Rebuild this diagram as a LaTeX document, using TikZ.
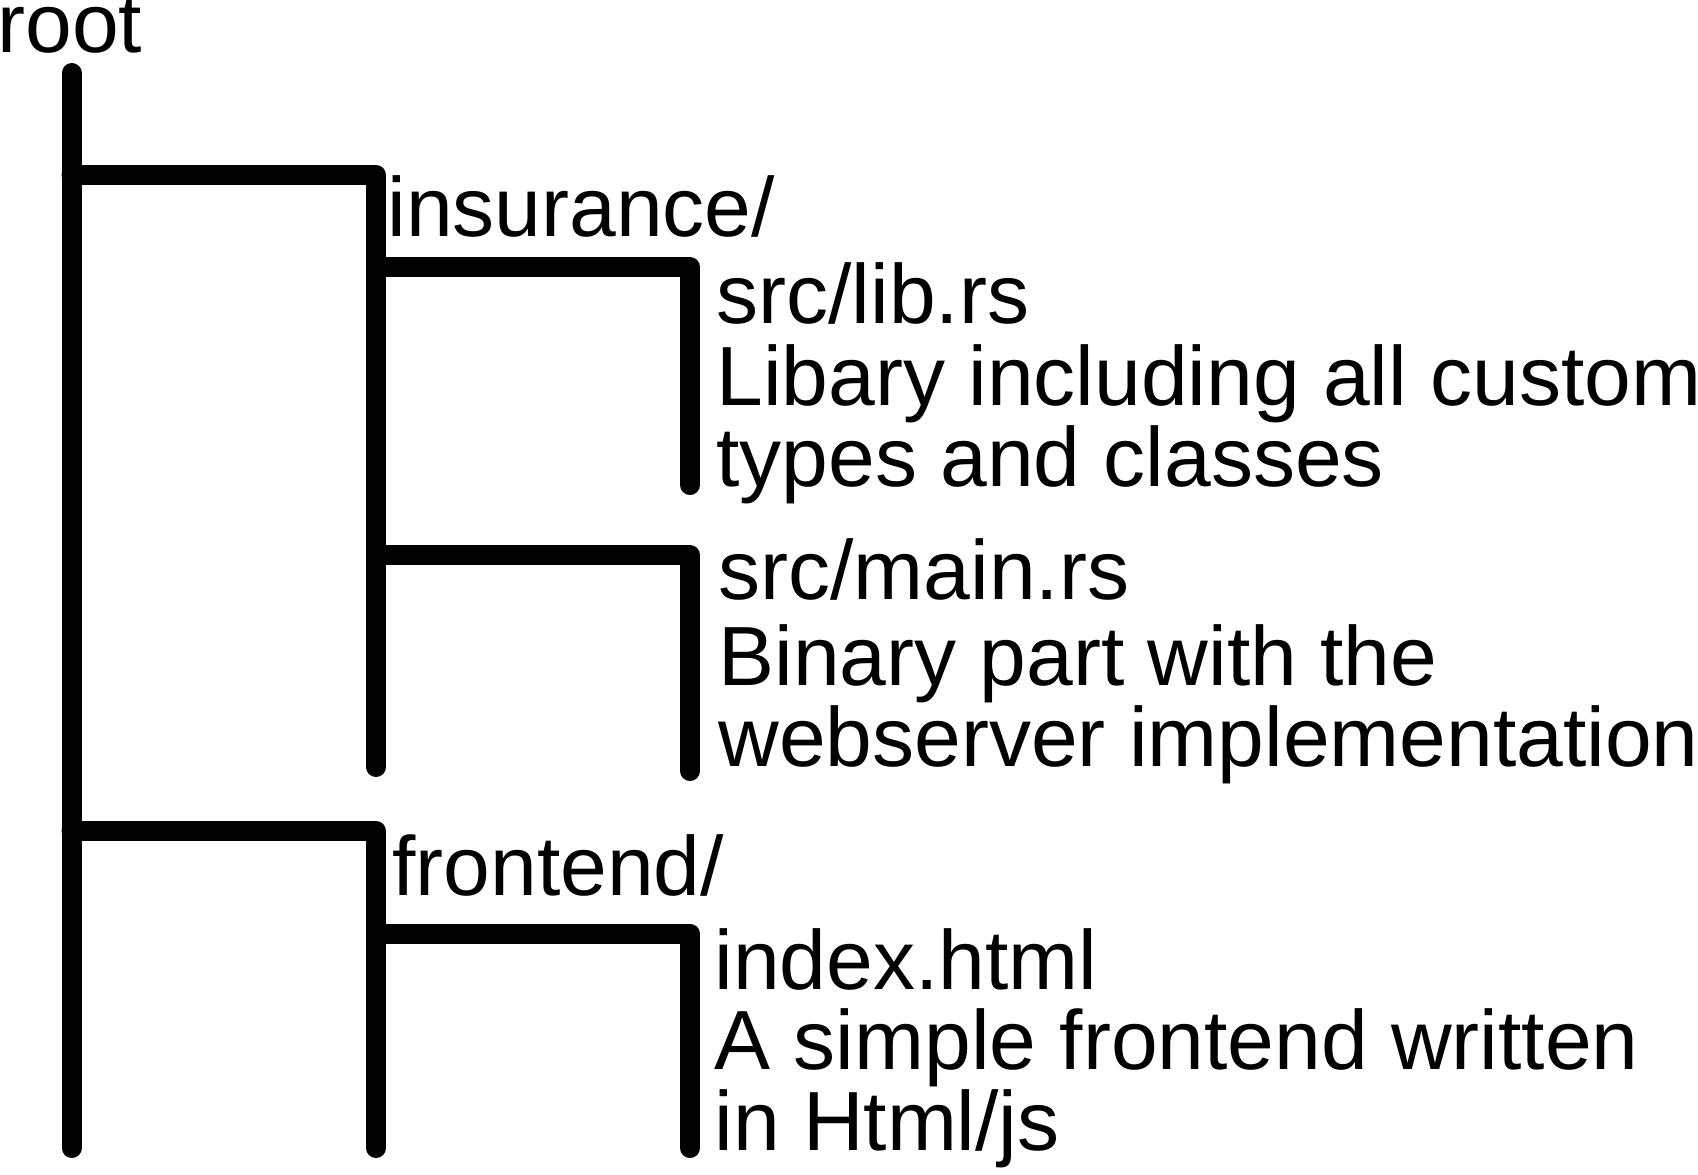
\documentclass[tikz,border=0pt]{standalone}
\usepackage{fontspec}
\setmainfont{Liberation Sans}
\begin{document}
\begin{tikzpicture}[x=0.5pt,y=-0.5pt,
    branch/.style={line width=10pt, line cap=round, line join=round},
    entry/.style={anchor=base west, inner sep=0pt, font=\fontsize{42}{36}\selectfont},
    note/.style={entry, align=left}]
    \useasboundingbox (0,0) rectangle (1698,1174);
    % tree
    \coordinate (root-top) at (71.5,73);
    \coordinate (root-bot) at (71.5,1148);
    \coordinate (ins-fork) at (71.5,175);
    \coordinate (ins-end) at (376,767);
    \coordinate (lib-fork) at (376,267);
    \coordinate (lib-end) at (690,485);
    \coordinate (main-fork) at (376,555);
    \coordinate (main-end) at (690,771);
    \coordinate (front-fork) at (71.5,831);
    \coordinate (front-end) at (376,1148);
    \coordinate (index-fork) at (376,933.5);
    \coordinate (index-end) at (690,1148);
    \draw [branch] (root-top) -- (root-bot);
    \draw [branch] (ins-fork) -| (ins-end);
    \draw [branch] (lib-fork) -| (lib-end);
    \draw [branch] (main-fork) -| (main-end);
    \draw [branch] (front-fork) -| (front-end);
    \draw [branch] (index-fork) -| (index-end);
    % labels (a note sits on the baseline of its last line)
    \node [entry] (root) at (-3,52) {root};
    \node [entry] (insurance) at (387,236) {insurance/};
    \node [entry] (lib) at (716,323) {src/lib.rs};
    \node [note] (lib-note) at (716,486) {Libary including all custom\\types and classes};
    \node [entry] (main) at (718,599) {src/main.rs};
    \node [note] (main-note) at (718,766) {Binary part with the\\webserver implementation};
    \node [entry] (frontend) at (392,895) {frontend/};
    \node [entry] (index) at (714,989) {index.html};
    \node [note] (index-note) at (714,1150) {A simple frontend written\\in Html/js};
\end{tikzpicture}
\end{document}
